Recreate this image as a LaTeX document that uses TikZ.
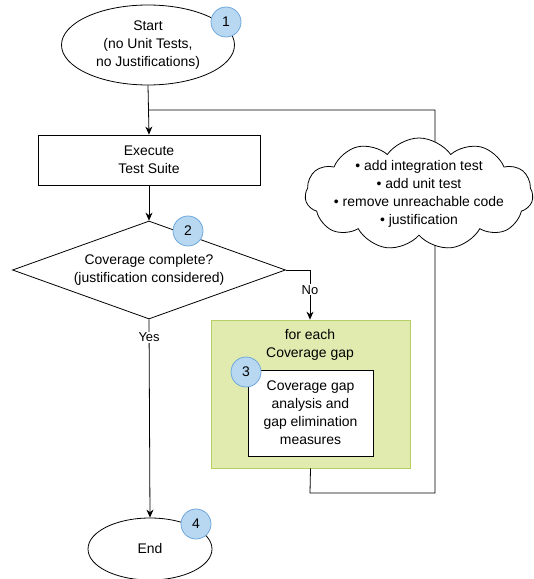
\documentclass[tikz,border=0pt]{standalone}
\usepackage{fontspec}
\setmainfont{Liberation Sans}
\usetikzlibrary{shapes.geometric,shapes.symbols,arrows.meta}
\definecolor{badgefill}{HTML}{B8D7F0}
\definecolor{badgeline}{HTML}{6FA8DC}
\definecolor{loopfill}{HTML}{E1EBB0}
\definecolor{loopline}{HTML}{B5CF62}
\tikzset{
  every node/.style={font=\fontsize{14}{18}\selectfont, align=center, inner sep=0pt},
  term/.style={ellipse, draw, thick, fill=white},
  procbox/.style={rectangle, draw, thick, fill=white},
  badge/.style={circle, draw=badgeline, thick, fill=badgefill, minimum size=30bp},
  flow/.style={thick, -{Stealth[length=8bp,width=7bp]}},
  plain/.style={thick},
  lbl/.style={fill=white, inner sep=1bp, font=\fontsize{13}{15}\selectfont},
}
\begin{document}
\begin{tikzpicture}[x=1bp,y=-1bp]
\useasboundingbox (0,0) rectangle (534,579);
% start
\node[term, minimum width=173bp, minimum height=80bp] (start) at (148,45) {Start\\(no Unit Tests,\\no Justifications)};
\node[badge] (b1) at (226,22) {1};
% execute
\node[procbox, minimum width=222bp, minimum height=50bp] (exec) at (149,160) {Execute\\Test Suite};
% decision
\node[diamond, draw, thick, fill=white, minimum width=273bp, minimum height=98bp, aspect=2.78] (dec) at (149,270) {Coverage complete?\\(justification considered)};
\node[badge] (b2) at (188,231) {2};
% loop container
\node[rectangle, draw=loopline, thick, fill=loopfill, minimum width=199bp, minimum height=148bp] (loop) at (310.5,394) {};
\node (looptxt) at (310,345) {for each\\Coverage gap};
\node[procbox, minimum width=125bp, minimum height=86bp] (gap) at (310.5,413) {Coverage gap\\analysis and\\gap elimination\\measures};
\node[badge] (b3) at (246,372) {3};
% cloud
\coordinate (lb) at (310,493);
\coordinate (rb) at (435,493);
\coordinate (rt) at (435,110);
\coordinate (lt) at (148,110);
\draw[plain] (loop.south) -- (lb) -- (rb) -- (rt) -- (lt);
\node[cloud, draw, thick, fill=white, cloud puffs=11, cloud puff arc=110, aspect=2.1, minimum width=228bp, minimum height=112bp] (cloud) at (419,194) {};
\node (cloudtxt) at (419,194) {• add integration test\\• add unit test\\• remove unreachable code\\• justification};
% end
\node[term, minimum width=124bp, minimum height=62bp] (end) at (150,549) {End};
\node[badge] (b4) at (196,524) {4};
% connectors
\draw[flow] (start.south) -- (exec.north);
\draw[flow] (exec.south) -- (dec.north);
\coordinate (nc) at (310,270);
\draw[flow] (dec.east) -- (nc) -- (loop.north -| nc) node[lbl, pos=0.4] (nolbl) {No};
\draw[flow] (dec.south) -- (end.north) node[lbl, pos=0.09] (yeslbl) {Yes};
\end{tikzpicture}
\end{document}
